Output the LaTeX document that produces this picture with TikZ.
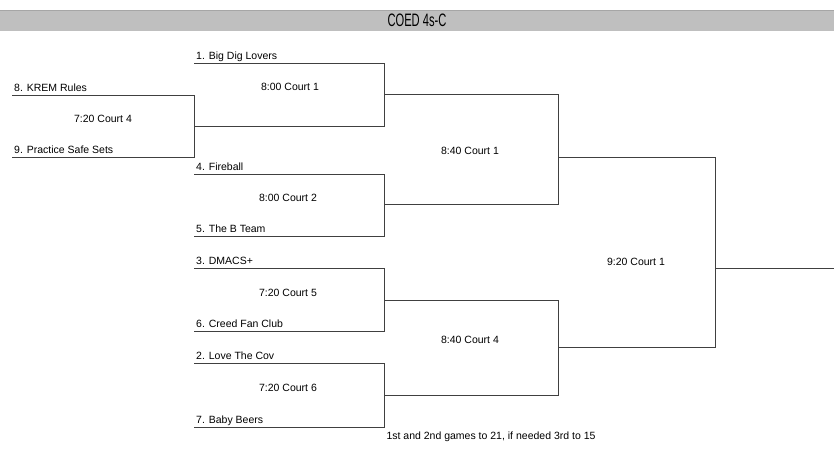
\documentclass[tikz,border=0pt]{standalone}
\usepackage{fontspec}
\setmainfont{Liberation Sans}
\begin{document}
\begin{tikzpicture}[x=1pt, y=-1pt,
    line/.style={draw=black!75, line width=1pt},
    team/.style={anchor=base west, inner sep=0pt, font=\fontsize{10.5}{12}\selectfont},
    game/.style={inner sep=0pt, font=\fontsize{10.5}{12}\selectfont}]
  \useasboundingbox (0,0) rectangle (834,450);

  % title band
  \fill [black!25] (0,10) rectangle (834,31);
  \draw [black!35] (0,10) -- (834,10);
  \node (title) at (417,20.5) {\fontsize{18}{20}\selectfont\scalebox{0.62}[1]{COED 4s-C}};

  % play-in game
  \coordinate (p8) at (12,95);
  \coordinate (p9) at (12,157);
  \coordinate (w0) at (194,126);
  \draw [line] (p8) -- (p8 -| w0) -- (p9 -| w0) -- (p9);
  \node [team] (n8) at ([shift={(2,-4)}]p8) {8. KREM Rules};
  \node [team] (n9) at ([shift={(2,-4)}]p9) {9. Practice Safe Sets};
  \node [game] (g0) at (103,119) {7:20 Court 4};

  % first round
  \coordinate (t1) at (194,63);
  \coordinate (t4) at (194,174);
  \coordinate (t5) at (194,236);
  \coordinate (t3) at (194,268);
  \coordinate (t6) at (194,331);
  \coordinate (t2) at (194,363);
  \coordinate (t7) at (194,427);
  \coordinate (m1) at (384,94);
  \coordinate (m2) at (384,204);
  \coordinate (m3) at (384,300);
  \coordinate (m4) at (384,395);
  \draw [line] (t1) -- (t1 -| m1) -- (w0 -| m1) -- (w0);
  \draw [line] (t4) -- (t4 -| m2) -- (t5 -| m2) -- (t5);
  \draw [line] (t3) -- (t3 -| m3) -- (t6 -| m3) -- (t6);
  \draw [line] (t2) -- (t2 -| m4) -- (t7 -| m4) -- (t7);
  \node [team] (n1) at ([shift={(2,-4)}]t1) {1. Big Dig Lovers};
  \node [team] (n4) at ([shift={(2,-4)}]t4) {4. Fireball};
  \node [team] (n5) at ([shift={(2,-4)}]t5) {5. The B Team};
  \node [team] (n3) at ([shift={(2,-4)}]t3) {3. DMACS+};
  \node [team] (n6) at ([shift={(2,-4)}]t6) {6. Creed Fan Club};
  \node [team] (n2) at ([shift={(2,-4)}]t2) {2. Love The Cov};
  \node [team] (n7) at ([shift={(2,-4)}]t7) {7. Baby Beers};
  \node [game] (g1) at (290,87) {8:00 Court 1};
  \node [game] (g2) at (288,198) {8:00 Court 2};
  \node [game] (g3) at (288,293) {7:20 Court 5};
  \node [game] (g4) at (288,388) {7:20 Court 6};

  % semis and final
  \coordinate (s1) at (558,157);
  \coordinate (s2) at (558,347);
  \coordinate (fin) at (715,268);
  \coordinate (win) at (834,268);
  \draw [line] (m1) -- (m1 -| s1) -- (m2 -| s1) -- (m2);
  \draw [line] (m3) -- (m3 -| s2) -- (m4 -| s2) -- (m4);
  \draw [line] (s1) -- (s1 -| fin) -- (s2 -| fin) -- (s2);
  \draw [line] (fin) -- (win);
  \node [game] (g5) at (470,151) {8:40 Court 1};
  \node [game] (g6) at (470,340) {8:40 Court 4};
  \node [game] (g7) at (636,262) {9:20 Court 1};

  \node [game] (note) at (491,437) {1st and 2nd games to 21, if needed 3rd to 15};
\end{tikzpicture}
\end{document}
